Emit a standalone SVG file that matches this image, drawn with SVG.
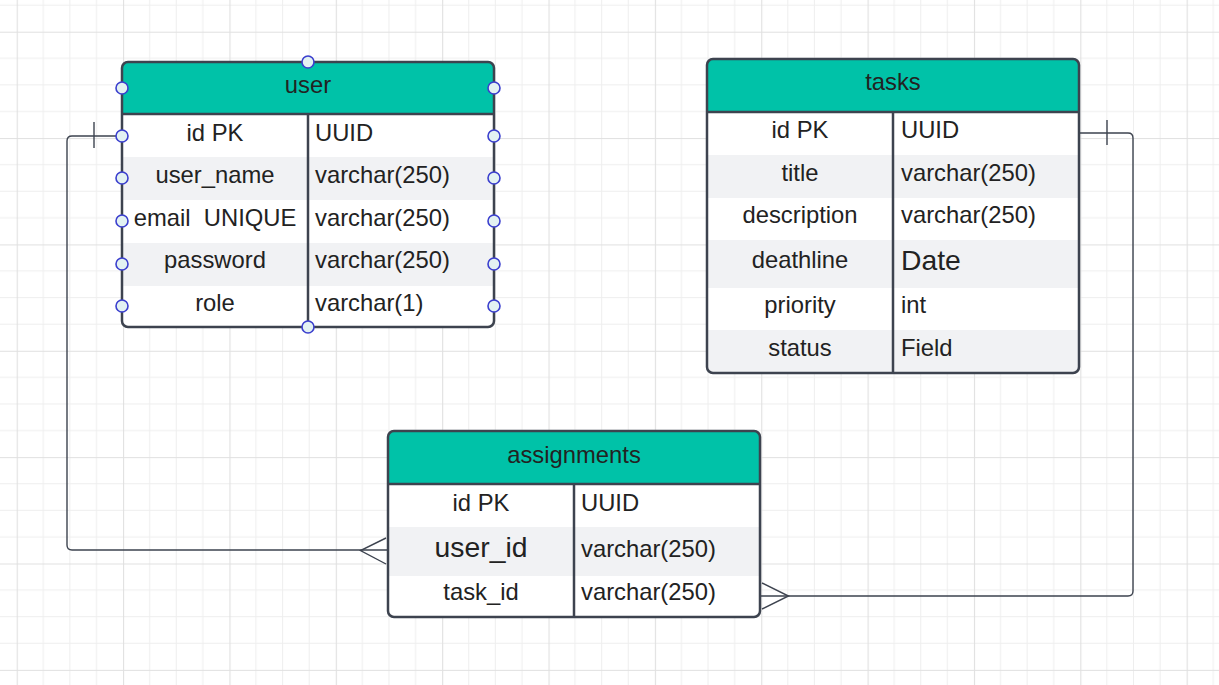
<svg xmlns="http://www.w3.org/2000/svg" width="1219" height="685" viewBox="0 0 1219 685">
<defs>
<style>
text{font-family:"Liberation Sans",Arial,sans-serif;font-size:23.8px;fill:#222}
.c{text-anchor:middle}
.big{font-size:28.3px}
.frame{fill:none;stroke:#3d434f;stroke-width:2.5}
.hdr{fill:#00c2a8}
.alt{fill:#f1f2f4}
.wht{fill:#fff}
.div{stroke:#3d434f;stroke-width:2.5;fill:none}
.conn{fill:none;stroke:#3d434f;stroke-width:1.4}
.pt{fill:#e3f2f2;stroke:#3b3fce;stroke-width:1.6}
</style>
<pattern id="grid" patternUnits="userSpaceOnUse" x="16.7" y="31.7" width="106.36" height="106.36">
<g stroke="#eeeeee" stroke-width="1">
<line x1="26.59" y1="0" x2="26.59" y2="106.36"/><line x1="53.18" y1="0" x2="53.18" y2="106.36"/><line x1="79.77" y1="0" x2="79.77" y2="106.36"/>
<line x1="0" y1="26.59" x2="106.36" y2="26.59"/><line x1="0" y1="53.18" x2="106.36" y2="53.18"/><line x1="0" y1="79.77" x2="106.36" y2="79.77"/>
</g>
<g stroke="#e0e0e0" stroke-width="1.2">
<line x1="0.5" y1="0" x2="0.5" y2="106.36"/><line x1="0" y1="0.5" x2="106.36" y2="0.5"/>
</g>
</pattern>
</defs>
<rect width="1219" height="685" fill="#fff"/>
<rect width="1219" height="685" fill="url(#grid)"/>

<g id="connectors">
<path class="conn" d="M122 136 H72 Q67 136 67 141 V545 Q67 550 72 550 H388"/>
<line class="conn" x1="94" y1="122" x2="94" y2="148"/>
<path class="conn" d="M386 538 L360.5 550.5 L386 564"/>
<path class="conn" d="M1080 133 H1128 Q1133 133 1133 138 V591 Q1133 596 1128 596 H761"/>
<line class="conn" x1="1107" y1="120" x2="1107" y2="145"/>
<path class="conn" d="M762 583 L788.5 596 L762 609"/>
</g>

<g id="user">
<path class="hdr" d="M128 62 H488 Q494 62 494 68 V114 H122 V68 Q122 62 128 62 Z"/>
<rect class="wht" x="122" y="114" width="372" height="43"/>
<rect class="alt" x="122" y="157" width="372" height="43"/>
<rect class="wht" x="122" y="200" width="372" height="43"/>
<rect class="alt" x="122" y="243" width="372" height="43"/>
<path class="wht" d="M122 286 H494 V321 Q494 327 488 327 H128 Q122 327 122 321 Z"/>
<rect class="frame" x="122" y="62" width="372" height="265" rx="6"/>
<line class="div" x1="122" y1="114" x2="494" y2="114"/>
<line class="div" x1="308" y1="114" x2="308" y2="327"/>
<text class="c" x="308" y="93.3">user</text>
<text class="c" x="215" y="140.7">id PK</text><text x="315" y="140.7">UUID</text>
<text class="c" x="215" y="183.3">user_name</text><text x="315" y="183.3">varchar(250)</text>
<text class="c" x="215" y="226" xml:space="preserve">email  UNIQUE</text><text x="315" y="226">varchar(250)</text>
<text class="c" x="215" y="268.3">password</text><text x="315" y="268.3">varchar(250)</text>
<text class="c" x="215" y="311">role</text><text x="315" y="311">varchar(1)</text>
<circle class="pt" cx="308" cy="62" r="6"/>
<circle class="pt" cx="122" cy="88" r="6"/><circle class="pt" cx="494" cy="88" r="6"/>
<circle class="pt" cx="122" cy="136" r="6"/><circle class="pt" cx="494" cy="136" r="6"/>
<circle class="pt" cx="122" cy="178" r="6"/><circle class="pt" cx="494" cy="178" r="6"/>
<circle class="pt" cx="122" cy="221" r="6"/><circle class="pt" cx="494" cy="221" r="6"/>
<circle class="pt" cx="122" cy="264" r="6"/><circle class="pt" cx="494" cy="264" r="6"/>
<circle class="pt" cx="122" cy="306" r="6"/><circle class="pt" cx="494" cy="306" r="6"/>
<circle class="pt" cx="308" cy="327" r="6"/>
</g>

<g id="tasks">
<path class="hdr" d="M713 59 H1073 Q1079 59 1079 65 V112 H707 V65 Q707 59 713 59 Z"/>
<rect class="wht" x="707" y="112" width="372" height="43"/>
<rect class="alt" x="707" y="155" width="372" height="43"/>
<rect class="wht" x="707" y="198" width="372" height="42"/>
<rect class="alt" x="707" y="240" width="372" height="48"/>
<rect class="wht" x="707" y="288" width="372" height="42"/>
<path class="alt" d="M707 330 H1079 V367 Q1079 373 1073 373 H713 Q707 373 707 367 Z"/>
<rect class="frame" x="707" y="59" width="372" height="314" rx="6"/>
<line class="div" x1="707" y1="112" x2="1079" y2="112"/>
<line class="div" x1="893" y1="112" x2="893" y2="373"/>
<text class="c" x="893" y="90">tasks</text>
<text class="c" x="800" y="138.3">id PK</text><text x="901" y="138.3">UUID</text>
<text class="c" x="800" y="180.7">title</text><text x="901" y="180.7">varchar(250)</text>
<text class="c" x="800" y="223.3">description</text><text x="901" y="223.3">varchar(250)</text>
<text class="c" x="800" y="268.3">deathline</text><text class="big" x="901" y="269.5">Date</text>
<text class="c" x="800" y="313.3">priority</text><text x="901" y="313.3">int</text>
<text class="c" x="800" y="356">status</text><text x="901" y="356">Field</text>
</g>

<g id="assignments">
<path class="hdr" d="M394 431 H754 Q760 431 760 437 V484 H388 V437 Q388 431 394 431 Z"/>
<rect class="wht" x="388" y="484" width="372" height="43"/>
<rect class="alt" x="388" y="527" width="372" height="49"/>
<path class="wht" d="M388 576 H760 V611 Q760 617 754 617 H394 Q388 617 388 611 Z"/>
<rect class="frame" x="388" y="431" width="372" height="186" rx="6"/>
<line class="div" x1="388" y1="484" x2="760" y2="484"/>
<line class="div" x1="574" y1="484" x2="574" y2="617"/>
<text class="c" x="574" y="462.7">assignments</text>
<text class="c" x="481" y="510.7">id PK</text><text x="581" y="510.7">UUID</text>
<text class="c big" x="481" y="556.7">user_id</text><text x="581" y="556.7">varchar(250)</text>
<text class="c" x="481" y="600">task_id</text><text x="581" y="600">varchar(250)</text>
</g>
</svg>
